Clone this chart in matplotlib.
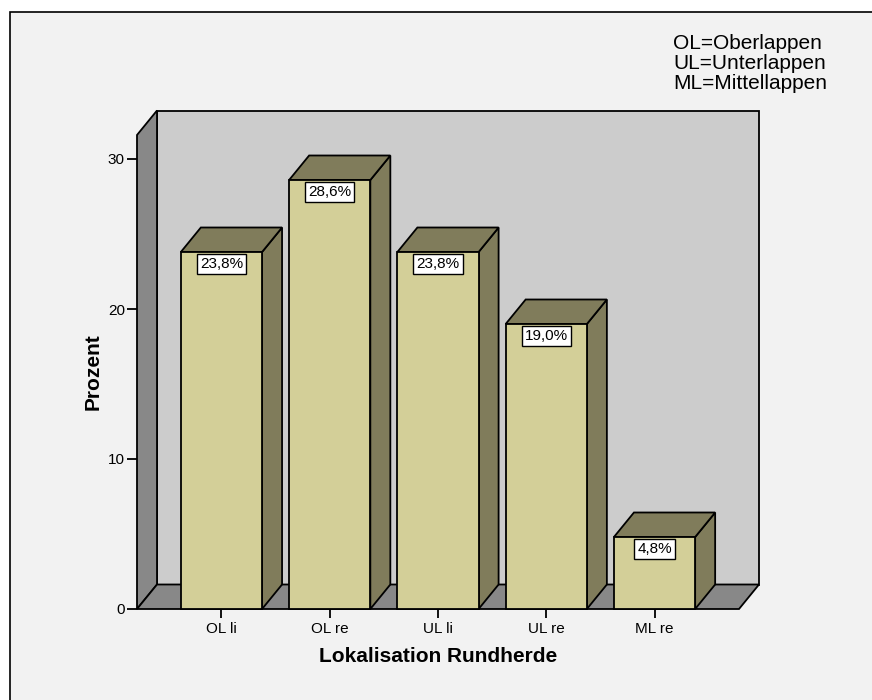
import matplotlib
matplotlib.use("Agg")
import matplotlib.pyplot as plt
from matplotlib.patches import Polygon, Rectangle
from matplotlib.transforms import IdentityTransform

# --- data -------------------------------------------------------------
categories = ["OL li", "OL re", "UL li", "UL re", "ML re"]
percent = [23.8, 28.6, 23.8, 19.0, 4.8]
y_ticks = [0, 10, 20, 30]
legend_lines = ["OL=Oberlappen", "UL=Unterlappen", "ML=Mittellappen"]
x_title = "Lokalisation Rundherde"
y_title = "Prozent"

# --- style ------------------------------------------------------------
W, H, DPI = 872, 700, 100
PANEL_BG = "#f2f2f2"
WALL_BACK = "#cccccc"
WALL_SIDE = "#888888"
BAR_FRONT = "#d3cf98"
BAR_SHADE = "#807c5b"
EDGE_LW = 1.3
DEPTH_X, DEPTH_Y = 20.0, 24.5   # pseudo-3D depth offset in pixels

plt.rcParams["font.family"] = ["Liberation Sans", "DejaVu Sans"]

fig = plt.figure(figsize=(W / DPI, H / DPI), dpi=DPI, facecolor="white")
fig.add_artist(Rectangle((9.5 / W, -0.1), 1.2, (H - 11.5) / H + 0.1,
                         transform=fig.transFigure, facecolor=PANEL_BG,
                         edgecolor="black", lw=1.2, zorder=-10))

left_px, right_px, bottom_px, top_px = 137, 739, 609, 135
ax = fig.add_axes([left_px / W, 1 - bottom_px / H,
                   (right_px - left_px) / W, (bottom_px - top_px) / H])
n = len(categories)
x0, x1 = -0.78, n - 1 + 0.78
y0, y1 = 0.0, 31.6
ax.set_xlim(x0, x1)
ax.set_ylim(y0, y1)
ax.patch.set_visible(False)
for s in ax.spines.values():
    s.set_visible(False)


def px(x, y, back=False):
    p = ax.transData.transform((x, y))
    if back:
        p = p + (DEPTH_X, DEPTH_Y)
    return p


def face(points, color, z):
    poly = Polygon(points, closed=True, facecolor=color, edgecolor="black",
                   lw=EDGE_LW, joinstyle="miter", transform=IdentityTransform(),
                   clip_on=False, zorder=z)
    ax.add_patch(poly)


# walls and floor
face([px(x0, y0, True), px(x1, y0, True), px(x1, y1, True), px(x0, y1, True)],
     WALL_BACK, 1)
face([px(x0, y0), px(x0, y0, True), px(x0, y1, True), px(x0, y1)], WALL_SIDE, 2)
face([px(x0, y0), px(x1, y0), px(x1, y0, True), px(x0, y0, True)], WALL_SIDE, 2)

# bars
bar_w = 0.75
xs = list(range(n))
for i, v in enumerate(percent):
    l, r = i - bar_w / 2, i + bar_w / 2
    face([px(r, 0), px(r, v), px(r, v, True), px(r, 0, True)], BAR_SHADE, 4)
    face([px(l, v), px(r, v), px(r, v, True), px(l, v, True)], BAR_SHADE, 4)
ax.bar(xs, percent, width=bar_w, color=BAR_FRONT, edgecolor="black",
       lw=EDGE_LW, zorder=5, clip_on=False)

for i, v in enumerate(percent):
    label = f"{v:.1f}%".replace(".", ",")
    ax.annotate(label, xy=(i, v), xytext=(0, -12 * 72 / DPI),
                textcoords="offset points", ha="center", va="center",
                fontsize=11, zorder=6,
                bbox=dict(boxstyle="square,pad=0.2", fc="white", ec="black",
                          lw=1.0))

# axes ticks and titles
ax.set_xticks(xs, categories)
ax.set_yticks(y_ticks, [str(t) for t in y_ticks])
ax.tick_params(axis="x", length=6.5, width=EDGE_LW, pad=3, labelsize=11)
ax.tick_params(axis="y", length=7.2, width=EDGE_LW, pad=1.5, labelsize=11)

ax.set_xlabel(x_title, fontsize=15, fontweight="bold", va="center")
ax.xaxis.set_label_coords(0.5, (bottom_px - 657) / (bottom_px - top_px))
ax.set_ylabel(y_title, fontsize=15, fontweight="bold", va="center")
ax.yaxis.set_label_coords((93.5 - left_px) / (right_px - left_px), 0.5)

for k, line in enumerate(legend_lines):
    fig.text(673 / W, 1 - (49 + 20 * k) / H, line, fontsize=15,
             ha="left", va="baseline")

fig.savefig("out.png", dpi=DPI, facecolor=fig.get_facecolor())
